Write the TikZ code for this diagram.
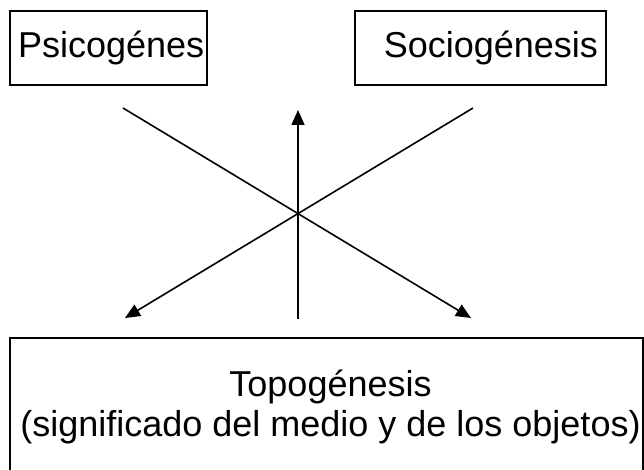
\documentclass[tikz,border=0pt]{standalone}
\usepackage{fontspec}
\setmainfont{Liberation Sans}
\usetikzlibrary{arrows.meta}
\newcommand\genfont{\fontsize{36}{40}\selectfont}

\begin{document}
\begin{tikzpicture}[x=1pt,y=-1pt,->,>={Triangle[length=15pt,width=13pt]},line width=1.6pt,
  box/.style={draw,inner xsep=8pt,inner ysep=0pt,minimum height=74pt,font=\genfont}]
  \useasboundingbox (0,0) rectangle (644,470);
  \node[box,align=left,text width=181pt] (psico) at (108.5,48) {Psicogénes};
  \node[box,align=right,text width=235pt] (socio) at (480.5,48) {Sociogénesis};
  \node[box,align=center,inner xsep=0pt,minimum width=633pt,minimum height=138pt] (topo) at (326.5,407)
    {\hspace*{8pt}Topogénesis\\\hspace*{8pt}(significado del medio y de los objetos)};
  \coordinate (pa) at (123,108);
  \coordinate (sa) at (473,108);
  \coordinate (pb) at (125,318);
  \coordinate (sb) at (471,318);
  \coordinate (ta) at (298,319);
  \coordinate (tb) at (298,110);
  \path
    (pa) edge (sb)
    (sa) edge (pb)
    (ta) edge (tb);
\end{tikzpicture}
\end{document}
